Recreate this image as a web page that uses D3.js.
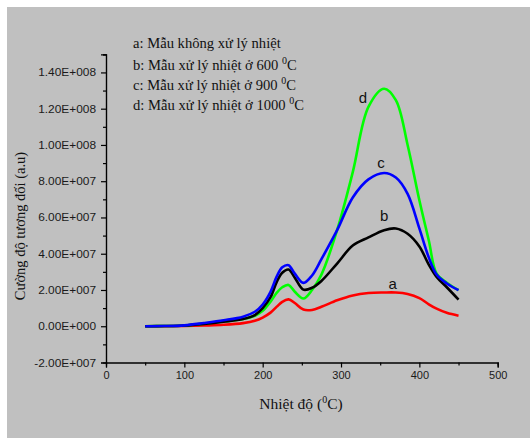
<!DOCTYPE html>
<html>
<head>
<meta charset="utf-8">
<script src="https://cdn.jsdelivr.net/npm/d3@7"></script>
<style>
  html, body { margin: 0; padding: 0; background: #ffffff; }
  svg { display: block; }
</style>
</head>
<body>
<svg id="chart" width="530" height="439"></svg>
<script>
// Temperature grid (°C)
const temps = [50, 75, 100, 125, 150, 175, 190, 200, 210, 218, 225, 233, 241, 252, 263, 275, 295, 315, 335, 355, 370, 385, 400, 412, 422, 435, 450];

// Relative intensity, in units of 1E7
const seriesA = [0, 0, 0.01, 0.04, 0.08, 0.17, 0.3, 0.48, 0.75, 1.08, 1.35, 1.48, 1.28, 0.92, 0.9, 1.07, 1.43, 1.7, 1.83, 1.86, 1.86, 1.78, 1.55, 1.21, 0.97, 0.74, 0.58];
const seriesB = [0, 0.01, 0.04, 0.13, 0.25, 0.4, 0.62, 1.0, 1.6, 2.45, 2.95, 3.13, 2.68, 2.02, 2.12, 2.5, 3.46, 4.45, 4.9, 5.3, 5.39, 5.1, 4.4, 3.4, 2.72, 2.15, 1.47];
const seriesC = [0, 0.01, 0.05, 0.18, 0.33, 0.53, 0.8, 1.2, 1.9, 2.75, 3.25, 3.37, 2.9, 2.39, 2.8, 3.7, 5.3, 7.1, 8.1, 8.45, 8.2, 7.3, 5.4, 3.8, 2.85, 2.36, 1.99];
const seriesD = [0, 0.01, 0.04, 0.14, 0.27, 0.4, 0.58, 0.85, 1.35, 1.85, 2.15, 2.28, 1.9, 1.53, 2.0, 2.85, 5.3, 8.5, 12.1, 13.1, 12.47, 10.0, 6.95, 4.74, 2.9, 2.4, 1.99];

const seriesKeys = ["a", "d", "b", "c"];
const seriesValues = { a: seriesA, b: seriesB, c: seriesC, d: seriesD };
const seriesColors = { a: "#ff0000", b: "#000000", c: "#0000ff", d: "#00ff00" };

// Curve letter annotations: [key, temperature, intensity (1E7)]
const curveLabels = [["d", 328, 12.6], ["c", 351, 9.02], ["b", 355, 6.12], ["a", 366, 2.37]];

// Legend lines
const legendItems = [
  { text: "a: Mẫu không xử lý nhiệt", deg: null },
  { text: "b: Mẫu xử lý nhiệt ở 600 ", deg: "C" },
  { text: "c: Mẫu xử lý nhiệt ở 900 ", deg: "C" },
  { text: "d: Mẫu xử lý nhiệt ở 1000 ", deg: "C" }
];

const xTicks = [0, 100, 200, 300, 400, 500];
const yTicks = [-2e7, 0, 2e7, 4e7, 6e7, 8e7, 1e8, 1.2e8, 1.4e8];
const yTickLabels = ["-2.00E+007", "0.00E+000", "2.00E+007", "4.00E+007", "6.00E+007", "8.00E+007", "1.00E+008", "1.20E+008", "1.40E+008"];

const svg = d3.select("#chart");

// Gray panel
svg.append("rect").attr("x", 7).attr("y", 7).attr("width", 523).attr("height", 431).attr("fill", "#c0c0c0");

const x = d3.scaleLinear().domain([0, 500]).range([106, 497.7]);
const y = d3.scaleLinear().domain([-2e7, 1.5e8]).range([362.5, 54.3]);

// Axes
const xAxis = d3.axisBottom(x).tickValues(xTicks).tickFormat(d3.format("d")).tickSize(5).tickPadding(4);
const xMinor = d3.axisBottom(x).tickValues(d3.range(50, 500, 100)).tickFormat("").tickSize(3);
const yAxis = d3.axisLeft(y).tickValues(yTicks).tickFormat((d, i) => yTickLabels[i]).tickSize(5).tickPadding(5);
const yMinor = d3.axisLeft(y).tickValues(d3.range(-1e7, 1.5e8 + 1, 2e7)).tickFormat("").tickSize(3);

function styleAxis(g) {
  g.select(".domain").attr("stroke", "#000").attr("stroke-width", 1.2);
  g.selectAll(".tick line").attr("stroke", "#000").attr("stroke-width", 1.2);
  g.selectAll(".tick text").attr("fill", "#1a1a1a").style("font-family", "Arial, 'Liberation Sans', sans-serif").style("font-size", "11px");
}

svg.append("g").attr("transform", `translate(0,${y(-2e7)})`).call(xMinor).call(styleAxis);
svg.append("g").attr("transform", `translate(0,${y(-2e7)})`).call(xAxis).call(styleAxis);
svg.append("g").attr("transform", `translate(${x(0)},0)`).call(yMinor).call(styleAxis);
const yg = svg.append("g").attr("transform", `translate(${x(0)},0)`).call(yAxis).call(styleAxis);

// Slightly widened y tick labels
yg.selectAll(".tick text").each(function () {
  const len = this.getComputedTextLength();
  d3.select(this).attr("textLength", len * 1.08).attr("lengthAdjust", "spacingAndGlyphs");
});

// Curves
const line = d3.line()
  .x((d, i) => x(temps[i]))
  .y(d => y(d * 1e7))
  .curve(d3.curveCatmullRom.alpha(0.5));

seriesKeys.forEach(k => {
  svg.append("path")
    .datum(seriesValues[k])
    .attr("d", line)
    .attr("fill", "none")
    .attr("stroke", seriesColors[k])
    .attr("stroke-width", 2.6)
    .attr("stroke-linejoin", "round");
});

// Curve letters
svg.selectAll("text.curve-label").data(curveLabels).enter().append("text")
  .attr("class", "curve-label")
  .attr("x", d => x(d[1]))
  .attr("y", d => y(d[2] * 1e7))
  .attr("text-anchor", "middle")
  .attr("dy", "0.35em")
  .attr("fill", "#111")
  .style("font-family", "Arial, 'Liberation Sans', sans-serif")
  .style("font-size", "15px")
  .text(d => d[0]);

// Legend
const serif = "'Liberation Serif', 'Times New Roman', serif";
const legendBaselines = [48, 70, 90, 110];
legendItems.forEach((item, i) => {
  const t = svg.append("text")
    .attr("x", 133)
    .attr("y", legendBaselines[i])
    .attr("fill", "#111")
    .style("font-family", serif)
    .style("font-size", "14.6px");
  t.append("tspan").text(item.text);
  if (item.deg) {
    t.append("tspan").attr("dy", -6).style("font-size", "10px").text("0");
    t.append("tspan").attr("dy", 6).text(item.deg);
  }
});

// Axis titles
const xt = svg.append("text")
  .attr("x", 301).attr("y", 409)
  .attr("text-anchor", "middle")
  .attr("fill", "#111")
  .style("font-family", serif)
  .style("font-size", "15.5px");
xt.append("tspan").text("Nhiệt độ (");
xt.append("tspan").attr("dy", -6).style("font-size", "10px").text("0");
xt.append("tspan").attr("dy", 6).text("C)");

svg.append("text")
  .attr("transform", "translate(25,226) rotate(-90)")
  .attr("text-anchor", "middle")
  .attr("fill", "#111")
  .style("font-family", serif)
  .style("font-size", "14.5px")
  .text("Cường độ tương đối (a.u)");
</script>
</body>
</html>
